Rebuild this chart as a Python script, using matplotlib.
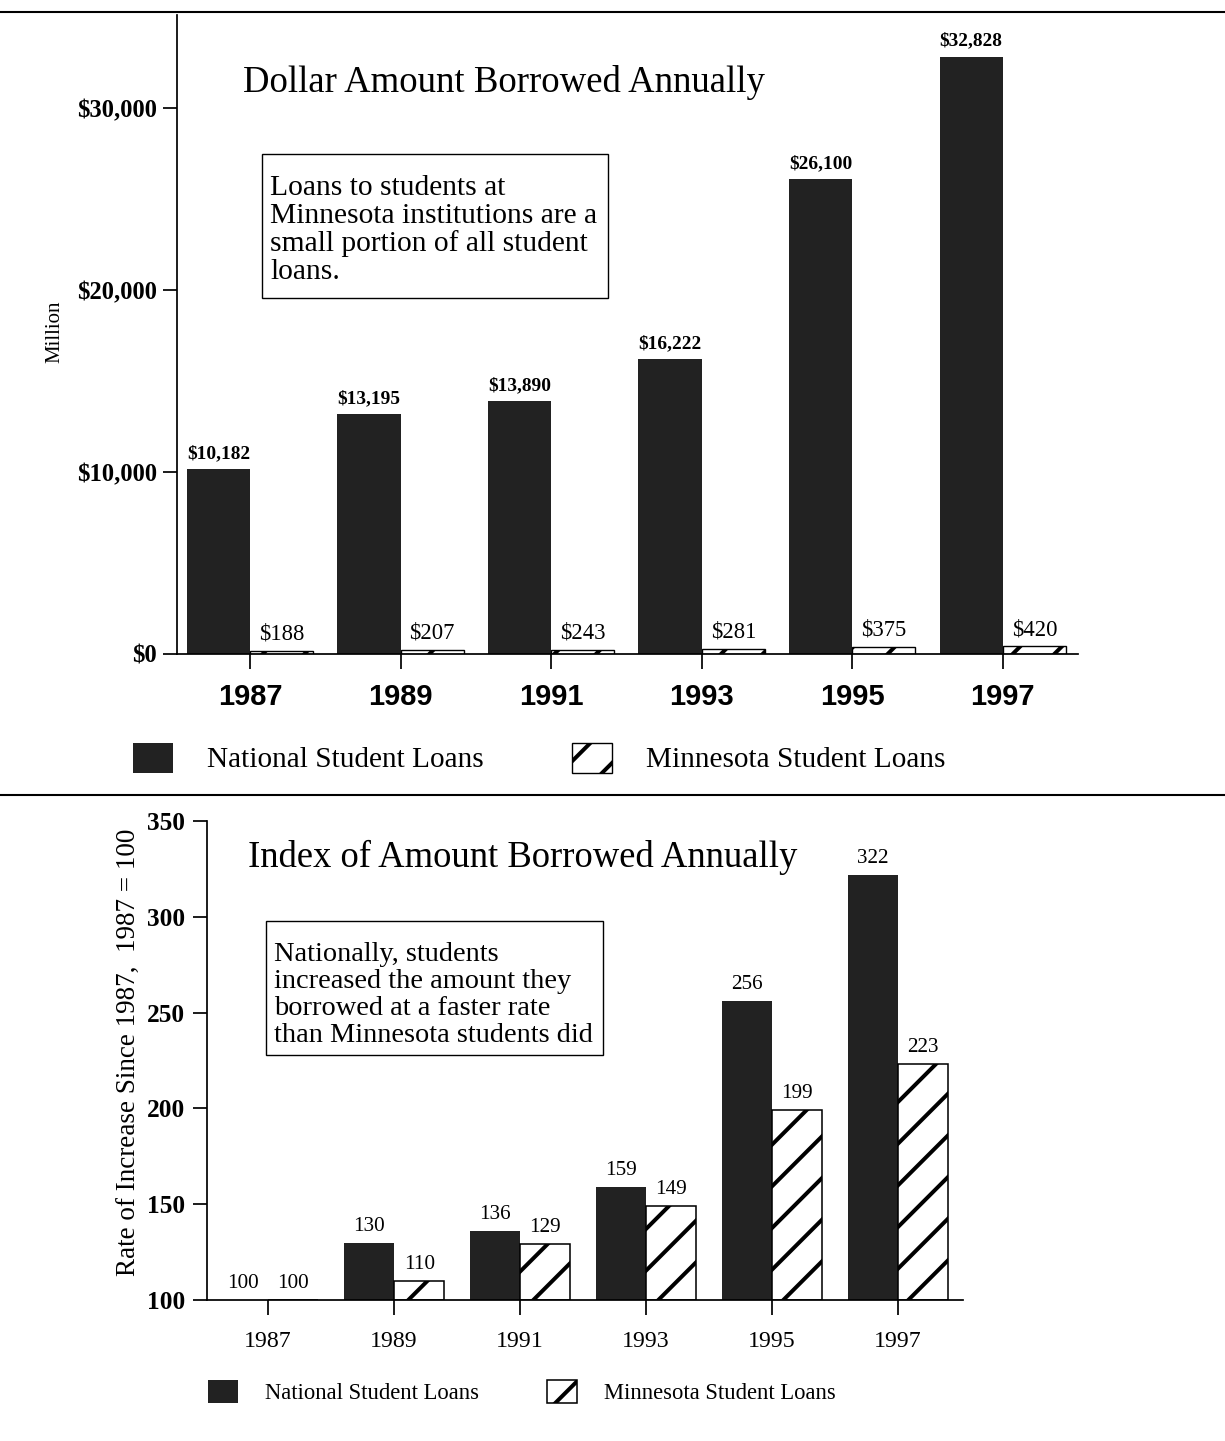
import numpy as np
import matplotlib.pyplot as plt
from matplotlib.lines import Line2D
from matplotlib.patches import Rectangle

plt.rcParams['font.family'] = 'Liberation Serif'
plt.rcParams['hatch.linewidth'] = 1.15
plt.rcParams['axes.linewidth'] = 0.5

# data
years = ['1987', '1989', '1991', '1993', '1995', '1997']
national_amt = [10182, 13195, 13890, 16222, 26100, 32828]
minnesota_amt = [188, 207, 243, 281, 375, 420]
national_idx = [100, 130, 136, 159, 256, 322]
minnesota_idx = [100, 110, 129, 149, 199, 223]
amt_ticks = [0, 10000, 20000, 30000]
idx_ticks = [100, 150, 200, 250, 300, 350]

dark = '#222222'
W, H = 1225, 1441
fig = plt.figure(figsize=(W/250, H/250), dpi=250)
x = np.arange(len(years))


def note(text, box, ty, size, ls):
    # framed note; box = (left, top, right, bottom) in pixels from top-left
    l, t, r, b = box
    fig.add_artist(Rectangle((l/W, 1-b/H), (r-l)/W, (b-t)/H, transform=fig.transFigure,
                             fc='white', ec='black', lw=0.4))
    fig.text((l+8.5)/W, 1-ty/H, text, fontsize=size, va='top', ha='left', linespacing=ls)


##Top panel - dollar amounts
ax1 = fig.add_axes([177/W, 1-654/H, 901/W, 639/H])
w1 = 0.42
nat1 = ax1.bar(x - w1/2, national_amt, w1, color=dark, linewidth=0, label='National Student Loans')
mn1 = ax1.bar(x + w1/2, minnesota_amt, w1, facecolor='white', edgecolor='black',
              hatch='//', linewidth=0.4, label='Minnesota Student Loans')
ax1.set_xlim(-0.485, 5.5)
ax1.set_ylim(0, 35110)
ax1.spines['top'].set_visible(False)
ax1.spines['right'].set_visible(False)

ax1.set_xticks(x)
ax1.set_xticklabels(years, family='Liberation Sans', weight='bold', fontsize=8.4)
ax1.tick_params(axis='x', direction='out', length=4.3, width=0.5, pad=4)
ax1.set_yticks(amt_ticks)
ax1.set_yticklabels(['$' + format(v, ',') for v in amt_ticks], weight='bold', fontsize=7.1)
ax1.tick_params(axis='y', direction='out', length=4, width=0.5, pad=1.7)
ax1.set_ylabel('Million', fontsize=6, va='center')
ax1.yaxis.set_label_coords(-0.1354, 0.505)

ax1.bar_label(nat1, labels=['$' + format(v, ',') for v in national_amt],
              padding=2, fontsize=5.6, weight='bold')
ax1.bar_label(mn1, labels=['$' + str(v) for v in minnesota_amt], padding=1.8, fontsize=6.5)

ax1.text(0.0733, 0.8795, 'Dollar Amount Borrowed Annually', transform=ax1.transAxes,
         fontsize=10.6, va='baseline', ha='left')
note('Loans to students at\nMinnesota institutions are a\nsmall portion of all student\nloans.',
     (262, 154, 608, 298), 175, 8.5, 1.08)

fig.legend(handles=[nat1, mn1], loc='center left', bbox_to_anchor=(133/W, 1-758/H),
           ncol=2, frameon=False, fontsize=8.45, borderpad=0, borderaxespad=0,
           handlelength=1.37, handleheight=1.2, handletextpad=1.16, columnspacing=3.0)

##Bottom panel - index
ax2 = fig.add_axes([207/W, 1-1300/H, 756/W, 479/H])
w2 = 0.40
nat2 = ax2.bar(x - w2/2, np.array(national_idx) - 100, w2, bottom=100, color=dark,
               linewidth=0, label='National Student Loans')
mn2 = ax2.bar(x + w2/2, np.array(minnesota_idx) - 100, w2, bottom=100, facecolor='white',
              edgecolor='black', hatch='//', linewidth=0.45, label='Minnesota Student Loans')
ax2.set_xlim(-0.484, 5.516)
ax2.set_ylim(100, 350)
ax2.spines['top'].set_visible(False)
ax2.spines['right'].set_visible(False)

ax2.set_xticks(x)
ax2.set_xticklabels(years, fontsize=6.9)
ax2.tick_params(axis='x', direction='out', length=4.3, width=0.5, pad=4.6)
ax2.set_yticks(idx_ticks)
ax2.set_yticklabels([str(v) for v in idx_ticks], weight='bold', fontsize=7.3)
ax2.tick_params(axis='y', direction='out', length=4, width=0.5, pad=2.3)
ax2.set_ylabel('Rate of Increase Since 1987,  1987 = 100', fontsize=7.8, va='center')
ax2.yaxis.set_label_coords(-0.102, 0.518)

ax2.bar_label(nat2, labels=[str(v) for v in national_idx], padding=2, fontsize=6.1)
ax2.bar_label(mn2, labels=[str(v) for v in minnesota_idx], padding=2, fontsize=6.1)

ax2.text(0.054, 0.904, 'Index of Amount Borrowed Annually', transform=ax2.transAxes,
         fontsize=10.55, va='baseline', ha='left')
note('Nationally, students\nincreased the amount they\nborrowed at a faster rate\n'
     'than Minnesota students did', (266, 921, 603, 1055), 942, 8.2, 1.11)

fig.legend(handles=[nat2, mn2], loc='center left', bbox_to_anchor=(208/W, 1-1392/H),
           ncol=2, frameon=False, fontsize=6.5, borderpad=0, borderaxespad=0,
           handlelength=1.33, handleheight=1.2, handletextpad=1.2, columnspacing=3.0)

#Separator rules
for yy in [12, 795]:
    fig.add_artist(Line2D([0, 1], [1-yy/H, 1-yy/H], transform=fig.transFigure,
                          color='black', lw=0.6))

plt.savefig('out.png', dpi=250)
